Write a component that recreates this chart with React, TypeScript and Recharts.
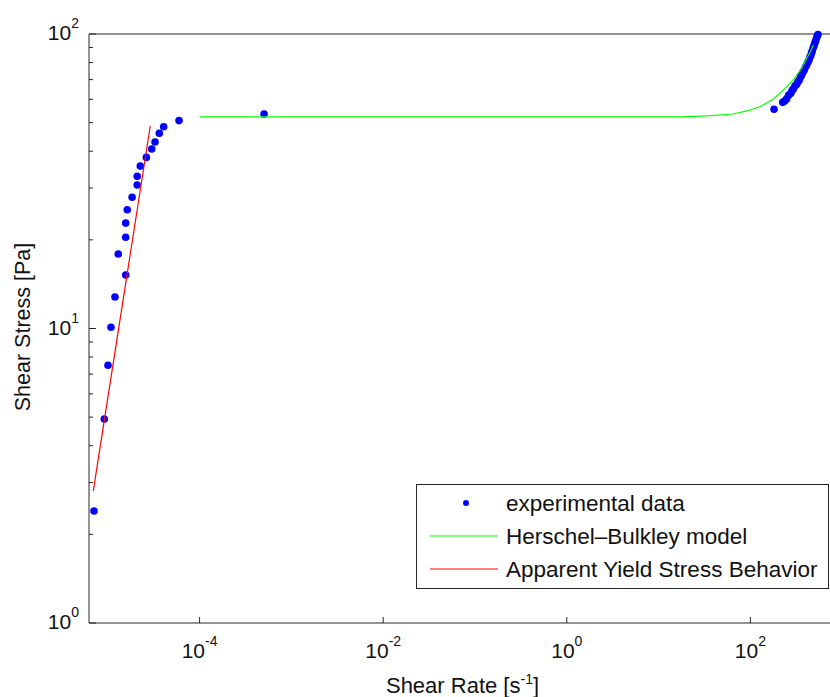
import { ScatterChart, Scatter, XAxis, YAxis, Legend } from "recharts";

const shearRate = [
  7.08e-6, 9.16e-6, 1.005e-5, 1.084e-5, 1.197e-5, 1.567e-5, 1.3e-5, 1.567e-5, 1.567e-5, 1.63e-5,
  1.84e-5, 2.09e-5, 2.09e-5, 2.26e-5, 2.63e-5, 3.01e-5, 3.27e-5, 3.64e-5, 4.06e-5, 5.97e-5,
  5.04e-4, 181, 225, 236, 248, 261, 275, 284, 293, 306, 319, 330, 341, 351, 362, 374, 386, 398,
  410, 422, 435, 444, 454, 463, 472, 482, 493, 503, 514, 525, 536, 545,
];
const shearStress = [
  2.4, 4.93, 7.5, 10.1, 12.8, 15.2, 17.9, 20.4, 22.8, 25.3,
  27.9, 30.7, 32.9, 35.6, 38.1, 40.7, 43.0, 46.0, 48.4, 50.8,
  53.5, 55.5, 58.6, 59.2, 60.2, 61.9, 62.9, 64.2, 65.0, 66.6, 67.5, 68.9, 69.8, 71.4, 72.6, 74.3, 75.5, 77.2,
  78.5, 80.2, 81.6, 83.3, 84.4, 86.2, 87.6, 89.6, 91.3, 93.2, 94.7, 96.9, 98.7, 99.6,
];

// Herschel-Bulkley fit
const hbRate = [1e-4, 1e-2, 1, 17.1, 33.4, 64.6, 94.2, 127, 178, 228, 293, 362, 410, 454, 484];
const hbStress = [52.3, 52.3, 52.3, 52.3, 52.7, 53.5, 54.9, 56.6, 60.2, 64.5, 69.8, 76.5, 82.7, 87.6, 91.8];

// apparent yield stress line
const yieldRate = [6.95e-6, 2.9e-5];
const yieldStress = [2.81, 48.7];

const seriesNames = ["experimental data", "Herschel–Bulkley model", "Apparent Yield Stress Behavior"];
const xTicks = [1e-4, 1e-2, 1, 1e2];
const yTicks = [1, 2, 3, 4, 5, 6, 7, 8, 9, 10, 20, 30, 40, 50, 60, 70, 80, 90, 100];
const xDomain = [6.24e-6, 856];
const yDomain = [1, 100];

const FONT = '"Liberation Sans", Arial, Helvetica, sans-serif';
const INK = "#262626";
const TXT = "#111";

const toPoints = (xs: number[], ys: number[]) => xs.map((x, i) => ({ x, y: ys[i] }));
const expOf = (v: number) => Math.round(Math.log10(v));
const isDecade = (v: number) => Math.abs(Math.log10(v) - expOf(v)) < 1e-9;

function BottomTick({ x, y, payload }: any) {
  return (
    <g>
      <line x1={x} x2={x} y1={y} y2={y - 6} stroke={INK} />
      <text x={x} y={y + 35} textAnchor="middle" fontSize={21} fontFamily={FONT} fill={TXT}>
        10<tspan dy={-12} fontSize={14}>{expOf(payload.value)}</tspan>
      </text>
    </g>
  );
}

function TopTick({ x, y }: any) {
  return <line x1={x} x2={x} y1={y} y2={y + 6} stroke={INK} />;
}

function LeftTick({ x, y, payload }: any) {
  const major = isDecade(payload.value);
  return (
    <g>
      <line x1={x} x2={x + (major ? 7 : 4)} y1={y} y2={y} stroke={INK} />
      {major && (
        <text x={x - 10} y={y + 6} textAnchor="end" fontSize={21} fontFamily={FONT} fill={TXT}>
          10<tspan dy={-12} fontSize={14}>{expOf(payload.value)}</tspan>
        </text>
      )}
    </g>
  );
}

const xLabel = ({ viewBox }: any) => (
  <text x={viewBox.x + viewBox.width / 2} y={viewBox.y + 70} textAnchor="middle" fontSize={22} fontFamily={FONT} fill={TXT}>
    Shear Rate [s<tspan dy={-9} fontSize={14}>-1</tspan><tspan dy={9}>]</tspan>
  </text>
);

const yLabel = ({ viewBox }: any) => {
  const cx = viewBox.x + 29.5;
  const cy = viewBox.y + viewBox.height / 2 - 1.5;
  return (
    <text x={cx} y={cy} transform={`rotate(-90 ${cx} ${cy})`} textAnchor="middle" fontSize={21.5} fontFamily={FONT} fill={TXT}>
      Shear Stress [Pa]
    </text>
  );
};

function LegendBox({ payload }: any) {
  const rows = [...(payload || [])].sort(
    (a: any, b: any) => seriesNames.indexOf(a.value) - seriesNames.indexOf(b.value)
  );
  return (
    <svg width={414} height={106} style={{ display: "block" }}>
      <rect x={0.5} y={0.5} width={412} height={104} fill="#fff" stroke={INK} />
      {rows.map((p: any, i: number) => {
        const cy = [19, 52, 85][i];
        const base = [27, 60, 93][i];
        return (
          <g key={p.value}>
            {p.type === "circle" ? (
              <circle cx={50} cy={cy} r={3} fill={p.color} />
            ) : (
              <line x1={14} x2={82} y1={cy} y2={cy} stroke={p.color} strokeWidth={1.2} />
            )}
            <text x={90} y={base} fontSize={22.5} fontFamily={FONT} fill={TXT}>
              {p.value}
            </text>
          </g>
        );
      })}
    </svg>
  );
}

export default function App() {
  return (
    <div style={{ position: "absolute", left: 0, top: 0, width: 830, height: 697, overflow: "hidden", background: "#fff" }}>
      <ScatterChart width={840} height={697} margin={{ top: 0, right: 4, bottom: 0, left: 0 }}>
        <XAxis
          xAxisId="b"
          dataKey="x"
          type="number"
          scale="log"
          domain={xDomain}
          ticks={xTicks}
          interval={0}
          tick={<BottomTick />}
          tickLine={false}
          tickSize={0}
          tickMargin={0}
          axisLine={{ stroke: INK }}
          height={74}
          label={xLabel}
        />
        <XAxis
          xAxisId="t"
          orientation="top"
          dataKey="x"
          type="number"
          scale="log"
          domain={xDomain}
          ticks={xTicks}
          interval={0}
          tick={<TopTick />}
          tickLine={false}
          tickSize={0}
          tickMargin={0}
          axisLine={{ stroke: INK }}
          height={34}
        />
        <YAxis
          yAxisId="l"
          dataKey="y"
          type="number"
          scale="log"
          domain={yDomain}
          ticks={yTicks}
          interval={0}
          tick={<LeftTick />}
          tickLine={false}
          tickSize={0}
          tickMargin={0}
          axisLine={{ stroke: INK }}
          width={89}
          label={yLabel}
        />
        <Scatter
          name={seriesNames[0]}
          xAxisId="b"
          yAxisId="l"
          data={toPoints(shearRate, shearStress)}
          fill="#0000ff"
          legendType="circle"
          isAnimationActive={false}
          shape={(p: any) => <circle cx={p.cx} cy={p.cy} r={3.8} fill="#0000ff" />}
        />
        <Scatter
          name={seriesNames[1]}
          xAxisId="b"
          yAxisId="l"
          data={toPoints(hbRate, hbStress)}
          fill="#00ff00"
          legendType="line"
          line={{ stroke: "#00ff00", strokeWidth: 1.2 }}
          isAnimationActive={false}
          shape={() => <g />}
        />
        <Scatter
          name={seriesNames[2]}
          xAxisId="b"
          yAxisId="l"
          data={toPoints(yieldRate, yieldStress)}
          fill="#ff0000"
          legendType="line"
          line={{ stroke: "#ff0000", strokeWidth: 1.2 }}
          isAnimationActive={false}
          shape={() => <g />}
        />
        <Legend
          layout="horizontal"
          verticalAlign="middle"
          align="center"
          content={<LegendBox />}
          wrapperStyle={{ left: 416, top: 484, width: 414, height: 106 }}
        />
      </ScatterChart>
    </div>
  );
}
